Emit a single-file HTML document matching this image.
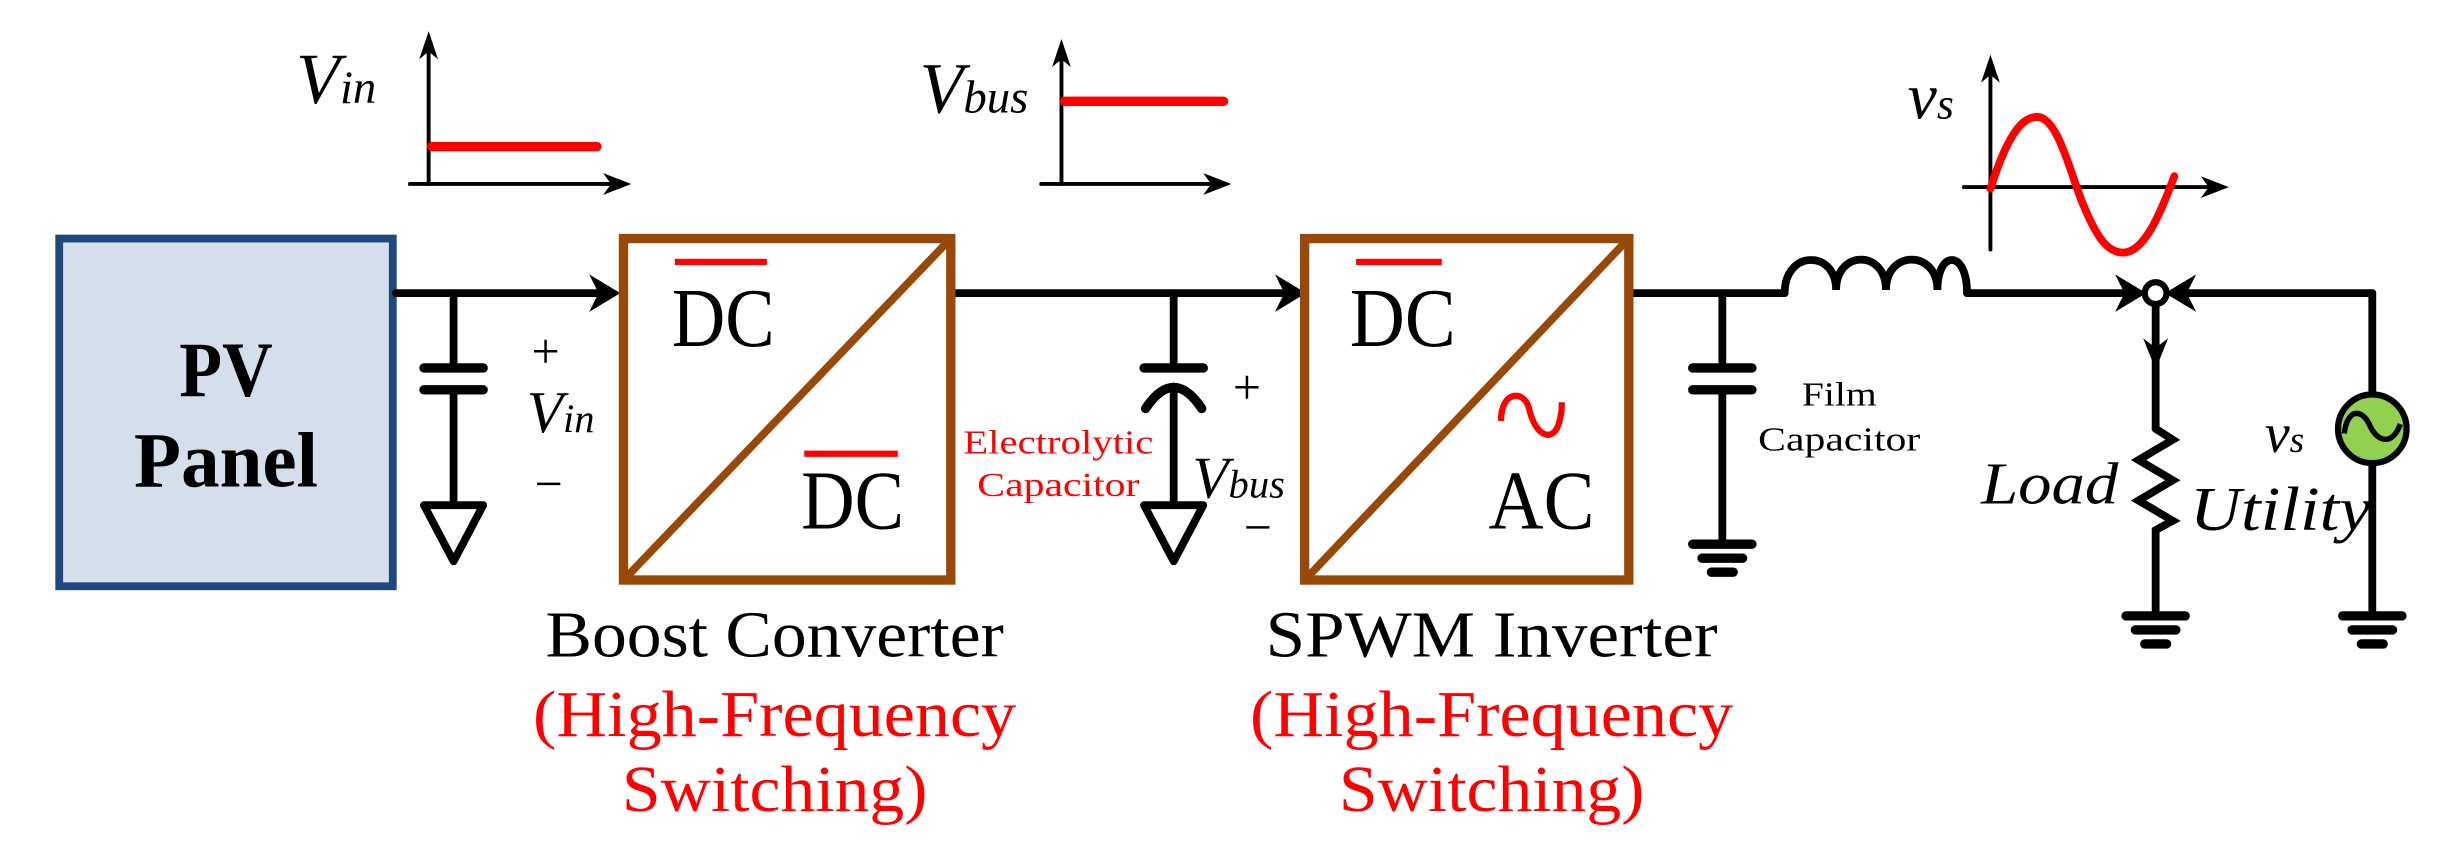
<!DOCTYPE html>
<html><head><meta charset="utf-8"><style>
html,body{margin:0;padding:0;background:#fff;}
svg{display:block;}
text{font-family:"Liberation Serif",serif;}
</style></head><body>
<svg width="2444" height="856" viewBox="0 0 1568 549" xmlns="http://www.w3.org/2000/svg" preserveAspectRatio="none">
<g stroke="#000" fill="none" stroke-linecap="round">
<line x1="275" y1="118" x2="275" y2="30" stroke-width="2.5"/>
<polygon points="275,20 269,38 275,33 281,38" fill="#000" stroke="none"/>
<line x1="263" y1="118" x2="395" y2="118" stroke-width="2.5"/>
<polygon points="405,118 387,111 392,118 387,125" fill="#000" stroke="none"/>
<line x1="277" y1="94" x2="383" y2="94" stroke="#f00" stroke-width="6"/>
<line x1="681" y1="118" x2="681" y2="35" stroke-width="2.5"/>
<polygon points="681,25 675,43 681,38 687,43" fill="#000" stroke="none"/>
<line x1="668" y1="118" x2="780" y2="118" stroke-width="2.5"/>
<polygon points="790,118 772,111 777,118 772,125" fill="#000" stroke="none"/>
<line x1="683" y1="65" x2="785" y2="65" stroke="#f00" stroke-width="6"/>
<line x1="1277" y1="160" x2="1277" y2="45" stroke-width="2.5"/>
<polygon points="1277,35 1271,53 1277,48 1283,53" fill="#000" stroke="none"/>
<line x1="1260" y1="120" x2="1420" y2="120" stroke-width="2.5"/>
<polygon points="1430,120 1412,113 1417,120 1412,127" fill="#000" stroke="none"/>
<path d="M1277,121 C1290,80 1300,75 1307,75 C1320,75 1328,110 1336,130 C1345,152 1352,162 1362,162 C1375,162 1385,140 1395,113" stroke="#f00" stroke-width="5"/>
</g>
<rect x="38" y="153" width="214" height="223" fill="#d5dfeb" stroke="#1f497d" stroke-width="5"/>
<text x="145" y="254" font-size="50" font-weight="bold" text-anchor="middle" textLength="60" lengthAdjust="spacingAndGlyphs">PV</text>
<text x="145" y="312" font-size="50" font-weight="bold" text-anchor="middle" textLength="118" lengthAdjust="spacingAndGlyphs">Panel</text>
<g stroke="#000" fill="none" stroke-width="5" stroke-linecap="round">
<line x1="254" y1="188" x2="385" y2="188"/>
<line x1="612" y1="188" x2="822" y2="188"/>
<line x1="1048" y1="188" x2="1145" y2="188"/>
<path d="M1145,188 C1145,160 1178,160 1178,186 C1178,160 1210,160 1210,186 C1210,160 1243,160 1243,186 C1243,160 1262,160 1262,188"/>
<line x1="1262" y1="188" x2="1365" y2="188"/>
<line x1="1402" y1="188" x2="1522" y2="188"/>
<line x1="1522" y1="188" x2="1522" y2="253"/>
<line x1="1522" y1="297" x2="1522" y2="395"/>
<line x1="1383" y1="196" x2="1383" y2="275"/>
<path d="M1383,275 L1394,282 L1372,295 L1394,308 L1372,321 L1394,334 L1383,340 L1383,395"/>
<line x1="291" y1="188" x2="291" y2="233"/>
<line x1="272" y1="236" x2="310" y2="236" stroke-width="6"/>
<line x1="272" y1="250" x2="310" y2="250" stroke-width="6"/>
<line x1="291" y1="250" x2="291" y2="322"/>
<polygon points="272,324 310,324 291,360" stroke-width="5" stroke-linejoin="round"/>
<line x1="753" y1="188" x2="753" y2="233"/>
<line x1="734" y1="236" x2="772" y2="236" stroke-width="6"/>
<path d="M735,262 Q753,235 771,262" stroke-width="6"/>
<line x1="753" y1="248" x2="753" y2="322"/>
<polygon points="734,324 772,324 753,360" stroke-width="5" stroke-linejoin="round"/>
<line x1="1105" y1="188" x2="1105" y2="233"/>
<line x1="1086" y1="236" x2="1124" y2="236" stroke-width="6"/>
<line x1="1086" y1="250" x2="1124" y2="250" stroke-width="6"/>
<line x1="1105" y1="250" x2="1105" y2="348"/>
<line x1="1086" y1="349" x2="1124" y2="349" stroke-width="6"/>
<line x1="1092" y1="358" x2="1118" y2="358" stroke-width="6"/>
<line x1="1098" y1="367" x2="1112" y2="367" stroke-width="6"/>
<line x1="1364" y1="395" x2="1402" y2="395" stroke-width="6"/>
<line x1="1370" y1="404" x2="1396" y2="404" stroke-width="6"/>
<line x1="1376" y1="413" x2="1390" y2="413" stroke-width="6"/>
<line x1="1503" y1="395" x2="1541" y2="395" stroke-width="6"/>
<line x1="1509" y1="404" x2="1535" y2="404" stroke-width="6"/>
<line x1="1515" y1="413" x2="1529" y2="413" stroke-width="6"/>
</g>
<polygon points="398,188 378,176 384,188 378,200" fill="#000"/>
<polygon points="838,188 818,176 824,188 818,200" fill="#000"/>
<polygon points="1377,188 1357,176 1363,188 1357,200" fill="#000"/>
<polygon points="1389,188 1409,176 1403,188 1409,200" fill="#000"/>
<polygon points="1383,237 1375,217 1383,223 1391,217" fill="#000"/>
<circle cx="1383" cy="188" r="7" fill="#fff" stroke="#000" stroke-width="4"/>
<circle cx="1522" cy="275" r="22" fill="#92d050" stroke="#000" stroke-width="4"/>
<path d="M1504,278 C1506,262 1515,262 1520,272 C1525,284 1535,286 1540,272" fill="none" stroke="#000" stroke-width="3.5"/>
<rect x="400" y="153" width="210" height="219" fill="none" stroke="#984807" stroke-width="6"/>
<line x1="402" y1="370" x2="608" y2="155" stroke="#984807" stroke-width="5"/>
<line x1="433" y1="168" x2="492" y2="168" stroke="#f00" stroke-width="4"/>
<text x="431" y="222" font-size="54" textLength="66" lengthAdjust="spacingAndGlyphs">DC</text>
<line x1="516" y1="291" x2="576" y2="291" stroke="#f00" stroke-width="4"/>
<text x="514" y="339" font-size="54" textLength="66" lengthAdjust="spacingAndGlyphs">DC</text>
<rect x="837" y="153" width="208" height="219" fill="none" stroke="#984807" stroke-width="6"/>
<line x1="839" y1="370" x2="1043" y2="155" stroke="#984807" stroke-width="5"/>
<line x1="870" y1="168" x2="925" y2="168" stroke="#f00" stroke-width="4"/>
<text x="866" y="222" font-size="54" textLength="68" lengthAdjust="spacingAndGlyphs">DC</text>
<path d="M963,270 C963,250 978,250 981,262 C985,280 996,284 1000,272 C1002,265 1002,262 1002,258" fill="none" stroke="#f00" stroke-width="4"/>
<text x="955" y="339" font-size="54" textLength="68" lengthAdjust="spacingAndGlyphs">AC</text>
<text x="190" y="66" font-size="46" font-style="italic">V<tspan font-size="30">in</tspan></text>
<text x="590" y="72" font-size="46" font-style="italic">V<tspan font-size="30">bus</tspan></text>
<text x="1224" y="76" font-size="42" font-style="italic">v<tspan font-size="28">s</tspan></text>
<text x="341" y="236" font-size="32">+</text>
<text x="338" y="277" font-size="38" font-style="italic">V<tspan font-size="26">in</tspan></text>
<text x="343" y="321" font-size="32">−</text>
<text x="791" y="259" font-size="32">+</text>
<text x="765" y="319" font-size="38" font-style="italic">V<tspan font-size="26">bus</tspan></text>
<text x="798" y="349" font-size="32">−</text>
<text x="679" y="291" font-size="22" fill="#f00" text-anchor="middle" textLength="122" lengthAdjust="spacingAndGlyphs">Electrolytic</text>
<text x="679" y="318" font-size="22" fill="#f00" text-anchor="middle" textLength="104" lengthAdjust="spacingAndGlyphs">Capacitor</text>
<text x="1180" y="260" font-size="22" text-anchor="middle" textLength="48" lengthAdjust="spacingAndGlyphs">Film</text>
<text x="1180" y="289" font-size="22" text-anchor="middle" textLength="104" lengthAdjust="spacingAndGlyphs">Capacitor</text>
<text x="1271" y="323" font-size="38" font-style="italic" textLength="88" lengthAdjust="spacingAndGlyphs">Load</text>
<text x="1453" y="290" font-size="36" font-style="italic">v<tspan font-size="24">s</tspan></text>
<text x="1405" y="340" font-size="40" font-style="italic" textLength="116" lengthAdjust="spacingAndGlyphs">Utility</text>
<text x="497" y="421" font-size="42" text-anchor="middle" textLength="294" lengthAdjust="spacingAndGlyphs">Boost Converter</text>
<text x="497" y="472" font-size="42" text-anchor="middle" fill="#f00" textLength="310" lengthAdjust="spacingAndGlyphs">(High-Frequency</text>
<text x="497" y="520" font-size="42" text-anchor="middle" fill="#f00" textLength="196" lengthAdjust="spacingAndGlyphs">Switching)</text>
<text x="957" y="421" font-size="42" text-anchor="middle" textLength="290" lengthAdjust="spacingAndGlyphs">SPWM Inverter</text>
<text x="957" y="472" font-size="42" text-anchor="middle" fill="#f00" textLength="310" lengthAdjust="spacingAndGlyphs">(High-Frequency</text>
<text x="957" y="520" font-size="42" text-anchor="middle" fill="#f00" textLength="196" lengthAdjust="spacingAndGlyphs">Switching)</text>
</svg>
</body></html>
